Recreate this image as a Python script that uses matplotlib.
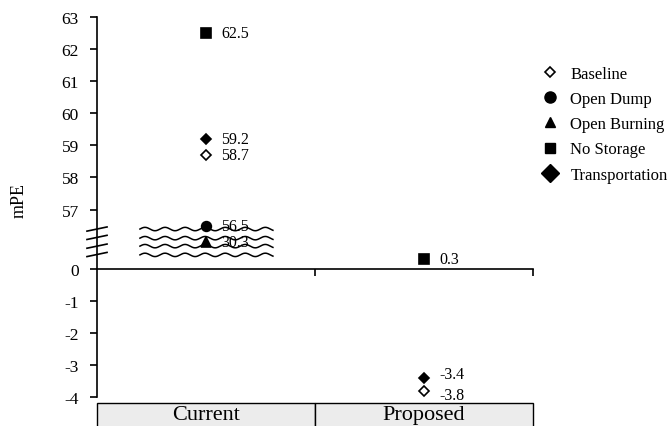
import numpy as np
import matplotlib
matplotlib.use("Agg")
import matplotlib.pyplot as plt
from matplotlib.lines import Line2D
from matplotlib.patches import Rectangle
import matplotlib.transforms as mtransforms

plt.rcParams['font.family'] = ['Liberation Serif', 'DejaVu Serif']

categories = ["Current", "Proposed"]
scenarios = ["Baseline", "Open Dump", "Open Burning", "No Storage", "Transportation"]
current_vals = [58.7, 56.5, 30.3, 62.5, 59.2]
proposed_vals = [-3.8, np.nan, np.nan, 0.3, -3.4]
yticks = [-4, -3, -2, -1, 0, 57, 58, 59, 60, 61, 62, 63]

markers = ['D', 'o', '^', 's', 'D']
faces = ['white', 'black', 'black', 'black', 'black']
sizes = [5, 7, 6.5, 6.5, 5]
# small vertical label nudges (pixels) for the Proposed column to keep close labels apart
label_nudge = [-4, 0, 0, 0, 4]

# broken-axis scale
def fwd(v):
    v = np.asarray(v, float)
    return np.where(v <= 0.5, v,
                    np.where(v >= 56.3, v - 55.16, 0.5 + (v - 0.5) * (0.64 / 55.8)))

def inv(d):
    d = np.asarray(d, float)
    return np.where(d <= 0.5, d,
                    np.where(d >= 1.14, d + 55.16, 0.5 + (d - 0.5) * (55.8 / 0.64)))

fig = plt.figure(figsize=(6.7, 4.27), dpi=100)
ax = fig.add_axes([97/670, 1 - 398/427, (533-97)/670, 380/427])
ax.set_yscale('function', functions=(fwd, inv))
ax.set_ylim(-4, 63)
ax.set_xlim(0, 2)

xpos = np.arange(len(categories)) + 0.5
for i, name in enumerate(scenarios):
    vals = [current_vals[i], proposed_vals[i]]
    ax.plot(xpos, vals, linestyle='none', marker=markers[i], ms=sizes[i],
            mfc=faces[i], mec='black', mew=1.2, zorder=3)
    for j, (x, v) in enumerate(zip(xpos, vals)):
        if not np.isnan(v):
            dy = label_nudge[i] if j == 1 else 0
            ax.annotate(f"{v:.1f}", (x, v), xytext=(15, dy), textcoords='offset pixels',
                        ha='left', va='center', fontsize=11.5, color='black', zorder=2)

# spines / ticks
for s in ['top', 'right']:
    ax.spines[s].set_visible(False)
ax.spines['bottom'].set_position(('data', 0))
ax.spines['left'].set_linewidth(1.2)
ax.spines['bottom'].set_linewidth(1.2)
ax.set_yticks(yticks)
ax.set_yticklabels([str(t) for t in yticks])
ax.tick_params(axis='y', direction='out', length=5, width=1.2, labelsize=12.5, pad=8)
ax.set_xticks([1, 2])
ax.set_xticklabels([])
ax.tick_params(axis='x', direction='out', length=5, width=1.2)
ax.set_ylabel('mPE', fontsize=13)
ax.yaxis.set_label_coords(-0.158, 0.52)

# wavy break lines
trans = mtransforms.blended_transform_factory(ax.transData, ax.transAxes)
xw = np.linspace(0.197, 0.807, 400)
for yb in [0.442, 0.418, 0.397, 0.374]:
    ax.plot(xw, yb + 0.0045 * np.sin(2 * np.pi * (xw - 0.197) / 0.092), color='black',
            lw=1.1, transform=trans, zorder=4, clip_on=False)

# break slashes on y axis
for yb in [0.442, 0.420, 0.397, 0.375]:
    ax.plot([-0.023, 0.023], [yb - 0.0055, yb + 0.0055], color='black', lw=1.2,
            transform=ax.transAxes, clip_on=False)

# category boxes
for i, c in enumerate(categories):
    r = Rectangle((i, -0.1), 1, 0.1 - 0.0158, transform=trans, facecolor='#ececec',
                  edgecolor='black', lw=1.0, clip_on=False)
    ax.add_patch(r)
    ax.text(xpos[i], -0.046, c, transform=trans, ha='center', va='center', fontsize=16)

# legend
handles = [
    Line2D([], [], linestyle='none', marker='D', ms=5.5, mfc='white', mec='black', mew=1.2),
    Line2D([], [], linestyle='none', marker='o', ms=8, mfc='black', mec='black'),
    Line2D([], [], linestyle='none', marker='^', ms=7.5, mfc='black', mec='black'),
    Line2D([], [], linestyle='none', marker='s', ms=7.5, mfc='black', mec='black'),
    Line2D([], [], linestyle='none', marker='D', ms=9, mfc='black', mec='black'),
]
fig.legend(handles, scenarios, loc='upper left', bbox_to_anchor=(543/670, 1 - 67/427),
           frameon=False, fontsize=12, handlelength=0.8, handletextpad=0.85,
           labelspacing=0.55, borderpad=0, borderaxespad=0)

fig.savefig('out.png', dpi=100)
